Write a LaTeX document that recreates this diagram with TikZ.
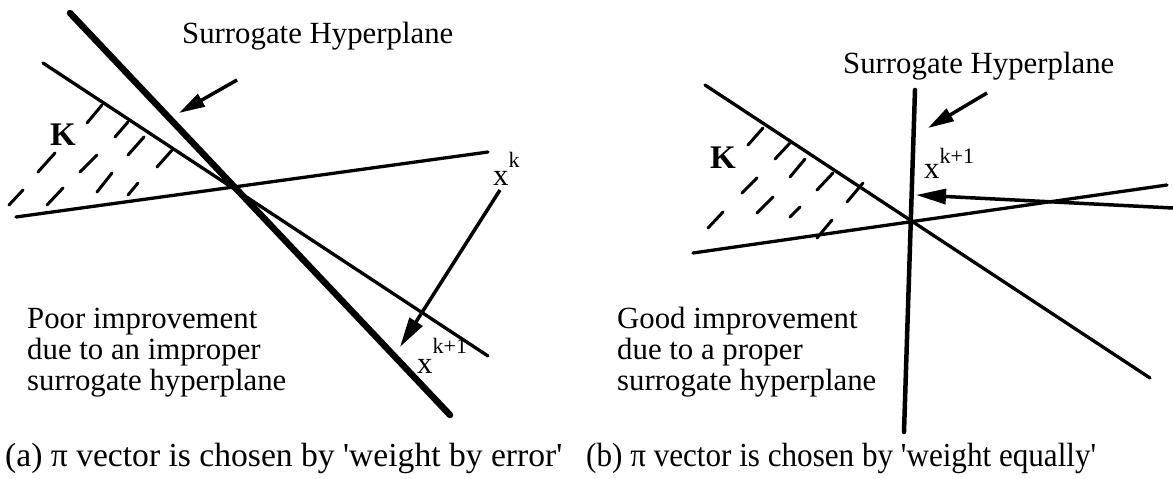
\documentclass[tikz,border=0pt]{standalone}
\usepackage{fontspec}
\usepackage{graphicx}
\setmainfont{Liberation Serif}
\usetikzlibrary{arrows.meta}
\tikzset{
  surrthick/.style={line width=6.5pt, line cap=round},
  surrline/.style={line width=4.5pt, line cap=round},
  planeline/.style={line width=3.3pt, line cap=round},
  hatchdash/.style={line width=3pt, line cap=round},
  ptr/.style={line width=3.5pt, -{Triangle[length=30pt,width=15pt]}},
  sptr/.style={line width=3.5pt, -{Triangle[length=26pt,width=14pt]}},
  lbl/.style={inner sep=0pt, anchor=base west, font=\fontsize{30.8}{32}\selectfont},
  caplbl/.style={inner sep=0pt, anchor=base west, font=\fontsize{33.6}{36}\selectfont},
  kset/.style={inner sep=0pt, anchor=base west, font=\fontsize{33}{36}\selectfont\bfseries},
  ptlbl/.style={inner sep=0pt, anchor=base west, font=\fontsize{30.8}{32}\selectfont},
}
\newcommand{\supx}[2]{x\raisebox{#1}{\fontsize{22}{22}\selectfont #2}}
\begin{document}
\begin{tikzpicture}[x=1pt,y=-1pt]
\path[use as bounding box] (0,0) rectangle (1173,479);

% ---------------- left panel (a) ----------------
\coordinate (L1a) at (70,13);   \coordinate (L1b) at (450,415);
\coordinate (L2a) at (43,63);   \coordinate (L2b) at (488,356);
\coordinate (L3a) at (16,217);  \coordinate (L3b) at (488,152);
\draw[planeline] (L2a) -- (L2b);
\draw[planeline] (L3a) -- (L3b);
\draw[surrthick] (L1a) -- (L1b);

% hatching of K
\foreach \a/\b/\c/\d in {87/123/102/105, 115/137/128/122, 38/172/55/153, 80/172/97/155,
  128/155/144/137, 157/167/173/149, 9/205/23/190, 47/205/63/188, 97/192/112/173, 128/195/138/183}
  \draw[hatchdash] (\a,\b) -- (\c,\d);

\node[kset] (lK) at (50,145) {K};
\node[lbl] (lsurr) at (182,43) {Surrogate Hyperplane};
\coordinate (la1) at (237,80); \coordinate (la2) at (179,113);
\draw[sptr] (la1) -- (la2);

\node[ptlbl] (lxk) at (493,185) {\supx{18pt}{k}};
\coordinate (lxa1) at (500,190); \coordinate (lxa2) at (400,347);
\draw[ptr] (lxa1) -- (lxa2);
\node[ptlbl] (lxk1) at (417,373) {\supx{20pt}{k+1}};

\node[lbl] (poor1) at (27,328) {Poor improvement};
\node[lbl] (poor2) at (27,359) {due to an improper};
\node[lbl] (poor3) at (27,390) {surrogate hyperplane};

\node[caplbl] (capa) at (5,466) {(a) π vector is chosen by \textquotesingle weight by error\textquotesingle};

% ---------------- right panel (b) ----------------
\coordinate (R1a) at (915,90);  \coordinate (R1b) at (904,432);
\coordinate (R2a) at (705,85);  \coordinate (R2b) at (1150,378);
\coordinate (R3a) at (693,253); \coordinate (R3b) at (1167,185);
\draw[planeline] (R2a) -- (R2b);
\draw[planeline] (R3a) -- (R3b);
\draw[surrline] (R1a) -- (R1b);

\foreach \a/\b/\c/\d in {748/145/763/128, 775/159/790/143, 742/193/757/178, 790/177/805/159,
  757/213/773/197, 708/228/723/212, 817/190/833/173, 790/217/800/207, 847/202/863/183, 817/238/832/220}
  \draw[hatchdash] (\a,\b) -- (\c,\d);

\node[kset] (rK) at (710,168) {K};
\node[lbl] (rsurr) at (843,73) {Surrogate Hyperplane};
\coordinate (ra1) at (987,93); \coordinate (ra2) at (928,128);
\draw[sptr] (ra1) -- (ra2);

\node[ptlbl] (rxk1) at (924,178) {\supx{15pt}{k+1}};
\coordinate (rxa1) at (1173,208); \coordinate (rxa2) at (916,195);
\draw[ptr] (rxa1) -- (rxa2);

\node[lbl] (good1) at (617,328) {Good improvement};
\node[lbl] (good2) at (617,359) {due to a proper};
\node[lbl] (good3) at (617,390) {surrogate hyperplane};

\node[caplbl] (capb) at (586,466) {\resizebox{510pt}{\height}{(b) π vector is chosen by \textquotesingle weight equally\textquotesingle}};
\end{tikzpicture}
\end{document}
